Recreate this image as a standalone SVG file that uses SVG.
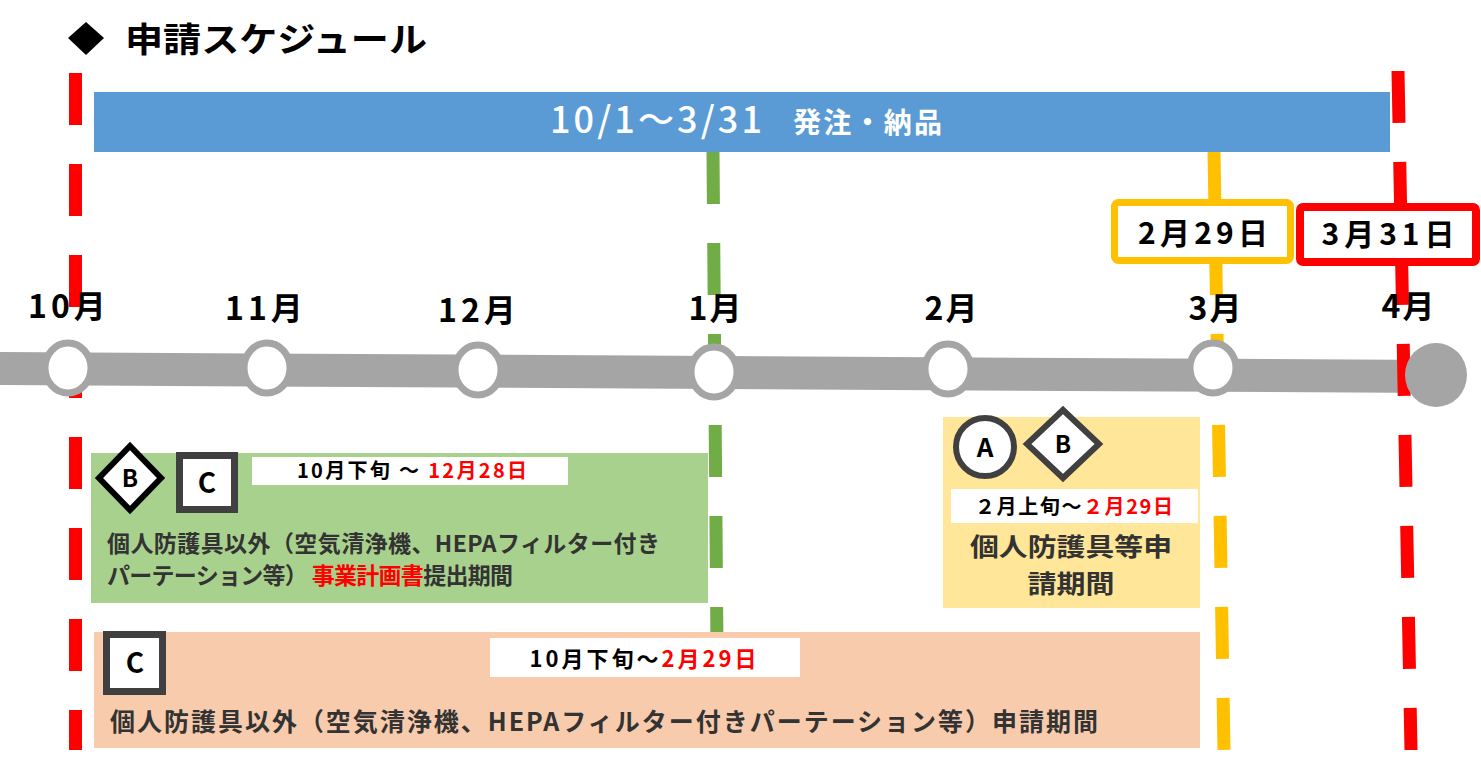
<svg xmlns="http://www.w3.org/2000/svg" width="1481" height="758" viewBox="0 0 1481 758">
<style>
text{font-family:"Noto Sans CJK JP","Noto Sans",sans-serif;font-weight:700;}
.dk{fill:#333333;}
.blk{fill:#000000;}
.red{fill:#FF0000;}
.wht{fill:#FFFFFF;}
.mon{font-size:32px;text-anchor:middle;fill:#000;}
.dash{fill:none;stroke-width:13;stroke-dasharray:52 39;}
.ring{fill:#FFFFFF;stroke:#A5A5A5;stroke-width:7;}
.sq{fill:#FFFFFF;stroke:#404040;stroke-width:7;}
.mid{text-anchor:middle;}
</style>
<rect width="1481" height="758" fill="#FFFFFF"/>
<g id="title">
<polygon points="86,22 104,38 86,55 68,38" fill="#000"/>
<text x="125" y="52" font-size="34" class="blk" textLength="302" lengthAdjust="spacingAndGlyphs">申請スケジュール</text>
</g>
<g id="order-bar">
<rect x="94" y="92" width="1296" height="60" fill="#5B9BD5"/>
<text x="550" y="133" font-size="36" class="wht" textLength="212" lengthAdjust="spacing" style="font-weight:500">10/1～3/31</text>
<text x="793" y="133" font-size="28" class="wht" textLength="149">発注・納品</text>
</g>
<g id="timeline-bar">
<polygon points="0,352 1436,360 1436,393 0,385" fill="#A5A5A5"/>
</g>
<g id="connectors">
<line x1="75.5" y1="73" x2="75.5" y2="750" class="dash" stroke="#FF0000"/>
<line x1="713" y1="152" x2="717" y2="650" class="dash" stroke="#70AD47"/>
<line x1="1214" y1="152" x2="1224" y2="750" class="dash" stroke="#FFC000"/>
<line x1="1398" y1="71" x2="1411" y2="750" class="dash" stroke="#FF0000"/>
</g>
<g id="timeline-nodes">
<ellipse cx="68" cy="368" rx="23" ry="25" class="ring"/>
<ellipse cx="267" cy="368" rx="23" ry="25" class="ring"/>
<ellipse cx="478" cy="370" rx="23" ry="25" class="ring"/>
<ellipse cx="714" cy="372" rx="23" ry="25" class="ring"/>
<ellipse cx="948" cy="369" rx="23" ry="25" class="ring"/>
<ellipse cx="1213" cy="368" rx="23" ry="25" class="ring"/>
<ellipse cx="1436" cy="375" rx="31" ry="32" fill="#A5A5A5"/>
</g>
<g id="month-labels">
<text x="69" y="318" class="mon" letter-spacing="4">10月</text>
<text x="266" y="320" class="mon" letter-spacing="4">11月</text>
<text x="479" y="322" class="mon" letter-spacing="4">12月</text>
<text x="716" y="320" class="mon" letter-spacing="2">1月</text>
<text x="952" y="320" class="mon" letter-spacing="2">2月</text>
<text x="1216" y="320" class="mon" letter-spacing="2">3月</text>
<text x="1409" y="318" class="mon" letter-spacing="2">4月</text>
</g>
<g id="deadline-0229">
<rect x="1114.5" y="202.5" width="176" height="58" rx="4" fill="#FFFFFF" stroke="#FFC000" stroke-width="7"/>
<text x="1203" y="244" font-size="30" class="blk mid" textLength="130">2月29日</text>
</g>
<g id="deadline-0331">
<rect x="1300" y="207" width="176" height="55" rx="3" fill="#FFFFFF" stroke="#FF0000" stroke-width="8"/>
<text x="1388" y="245" font-size="30" class="blk mid" textLength="133">3月31日</text>
</g>
<g id="plan-period">
<rect x="91" y="453" width="617" height="150" fill="#A9D18E"/>
<polygon points="130,446 161,478 130,510 99,478" fill="#FFFFFF" stroke="#000" stroke-width="6"/>
<text x="130" y="487" font-size="24" class="blk mid">B</text>
<rect x="179.5" y="455.5" width="55" height="54" class="sq"/>
<text x="207" y="493" font-size="28" class="blk mid">C</text>
<rect x="252" y="457" width="316" height="28" fill="#FFFFFF"/>
<text x="297" y="478" font-size="20" class="blk" textLength="230">10月下旬 ～ <tspan class="red">12月28日</tspan></text>
<text x="107" y="552" font-size="23" class="dk" textLength="553">個人防護具以外（空気清浄機、HEPAフィルター付き</text>
<text x="107" y="584" font-size="23" class="dk" textLength="406">パーテーション等） <tspan class="red">事業計画書</tspan>提出期間</text>
</g>
<g id="ppe-period">
<rect x="943" y="417" width="257" height="191" fill="#FFE699"/>
<circle cx="985" cy="447" r="29" fill="#FFFFFF" stroke="#404040" stroke-width="6"/>
<text x="985" y="457" font-size="26" class="blk mid">A</text>
<polygon points="1063,410 1099,444 1063,478 1027,444" fill="#FFFFFF" stroke="#404040" stroke-width="6"/>
<text x="1063" y="453" font-size="24" class="blk mid">B</text>
<rect x="951" y="489" width="247" height="34" fill="#FFFFFF"/>
<text x="1074" y="514" font-size="20" class="blk mid" textLength="198">２月上旬～<tspan class="red">２月29日</tspan></text>
<text x="1071" y="556" font-size="25" class="dk mid" textLength="202" lengthAdjust="spacingAndGlyphs">個人防護具等申</text>
<text x="1071" y="593" font-size="25" class="dk mid" textLength="87" lengthAdjust="spacingAndGlyphs">請期間</text>
</g>
<g id="other-period">
<rect x="94" y="632" width="1106" height="116" fill="#F8CBAD"/>
<rect x="106.5" y="634.5" width="56" height="57" class="sq"/>
<text x="135" y="673" font-size="28" class="blk mid">C</text>
<rect x="490" y="638" width="310" height="39" fill="#FFFFFF"/>
<text x="643" y="667" font-size="22" class="blk mid" textLength="227">10月下旬～<tspan class="red">2月29日</tspan></text>
<text x="110" y="731" font-size="25" class="dk" textLength="988">個人防護具以外（空気清浄機、HEPAフィルター付きパーテーション等）申請期間</text>
</g>
</svg>
